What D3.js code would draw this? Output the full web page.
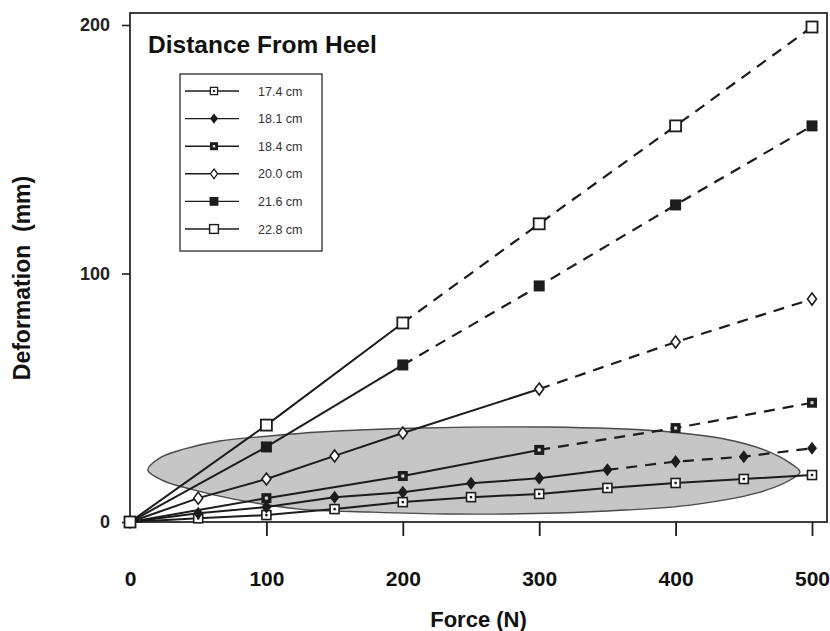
<!DOCTYPE html>
<html><head><meta charset="utf-8">
<script src="https://cdn.jsdelivr.net/npm/d3@7"></script>
<style>
html,body{margin:0;padding:0;background:#fff;}
svg{display:block;font-family:"Liberation Sans",Arial,Helvetica,sans-serif;}
</style></head>
<body>
<svg id="chart" width="830" height="631"></svg>
<script>
// ---- data ----
const seriesNames = ["17.4 cm","18.1 cm","18.4 cm","20.0 cm","21.6 cm","22.8 cm"];
const force_17_4 = [0,50,100,150,200,250,300,350,400,450,500];
const defo_17_4  = [0,1.5,2.8,5.2,8.0,10.0,11.3,13.7,15.7,17.3,18.9];
const force_18_1 = [0,50,100,150,200,250,300,350,400,450,500];
const defo_18_1  = [0,3.5,6.0,10.0,12.0,15.6,17.6,21.0,24.3,26.3,29.7];
const force_18_4 = [0,100,200,300,400,500];
const defo_18_4  = [0,9.6,18.5,29.0,37.8,48.0];
const force_20_0 = [0,50,100,150,200,300,400,500];
const defo_20_0  = [0,9.6,17.3,26.6,35.8,53.5,72.4,89.7];
const force_21_6 = [0,100,200,300,400,500];
const defo_21_6  = [0,30.2,63.2,95.0,127.6,159.4];
const force_22_8 = [0,100,200,300,400,500];
const defo_22_8  = [0,39.0,80.1,120.0,159.4,199.2];
// force up to which each series is drawn solid (dashed beyond)
const solidUntil = [500,350,300,300,200,200];
const xTicks = [0,100,200,300,400,500];
const yTicks = [0,100,200];
// shaded region outline (force, deformation)
const regionForce = [13.1,21.9,40.1,65.7,102.2,138.7,211.7,306.6,386.9,435.8,465.0,484.0,491.2,484.0,459.9,410.9,362.8,313.9,233.6,175.2,124.1,75.2,43.8,23.4];
const regionDefo  = [20.9,25.8,29.4,32.6,34.6,36.2,37.8,38.2,36.6,33.4,29.0,23.7,20.1,16.9,11.7,6.8,4.8,3.6,3.2,4.0,5.2,9.3,13.3,16.9];

const forces = [force_17_4,force_18_1,force_18_4,force_20_0,force_21_6,force_22_8];
const defos  = [defo_17_4,defo_18_1,defo_18_4,defo_20_0,defo_21_6,defo_22_8];
const series = seriesNames.map((n,i)=>({name:n, idx:i, solid:solidUntil[i],
  pts: forces[i].map((f,j)=>({f, d:defos[i][j]}))}));

// ---- layout ----
const svg = d3.select("#chart");
const L=130, R=827, T=13, B=522;
const x = d3.scaleLinear().domain([0,500]).range([130,812]);
const y = d3.scaleLinear().domain([0,200]).range([522,25]);
const ink = "#1c1c1c";

// shaded region
const regionPts = regionForce.map((f,i)=>[x(f), y(regionDefo[i])]);
svg.append("path")
  .attr("d", d3.line().curve(d3.curveCatmullRomClosed.alpha(0.5))(regionPts))
  .attr("fill","#c6c6c6").attr("stroke","#4a4a4a").attr("stroke-width",1.4);

// frame
svg.append("rect").attr("x",L).attr("y",T).attr("width",R-L).attr("height",B-T)
  .attr("fill","none").attr("stroke","#2a2a2a").attr("stroke-width",1.8);

// axes
const xAxis = svg.append("g").attr("transform",`translate(0,${B})`)
  .call(d3.axisBottom(x).tickValues(xTicks).tickSize(14).tickPadding(35).tickFormat(d3.format("d")));
xAxis.select(".domain").remove();
xAxis.selectAll(".tick line").attr("stroke",ink).attr("stroke-width",1.8)
  .filter(d=>d===0).remove();
xAxis.selectAll(".tick text").attr("fill","#111").attr("font-size",21).attr("font-weight","bold")
  .attr("font-family","Liberation Sans, Arial, sans-serif");

const yAxis = svg.append("g").attr("transform",`translate(${L},0)`)
  .call(d3.axisLeft(y).tickValues(yTicks).tickSize(8).tickPadding(12).tickFormat(d3.format("d")));
yAxis.select(".domain").remove();
yAxis.selectAll(".tick line").attr("stroke",ink).attr("stroke-width",1.6);
yAxis.selectAll(".tick text").attr("fill","#222").attr("font-size",18).attr("font-weight","bold")
  .attr("font-family","Liberation Sans, Arial, sans-serif");

// axis titles
svg.append("text").attr("x",(L+R)/2).attr("y",627).attr("text-anchor","middle")
  .attr("font-size",22).attr("font-weight","bold").attr("fill","#111").text("Force (N)");
svg.append("text").attr("transform",`translate(30,278) rotate(-90)`).attr("text-anchor","middle")
  .attr("font-size",23).attr("font-weight","bold").attr("fill","#111").attr("xml:space","preserve")
  .text("Deformation  (mm)");

// lines
const line = d3.line().x(p=>x(p.f)).y(p=>y(p.d));
series.forEach(s=>{
  const solid = s.pts.filter(p=>p.f<=s.solid);
  const dashed = s.pts.filter(p=>p.f>=s.solid);
  svg.append("path").attr("d",line(solid)).attr("fill","none").attr("stroke",ink).attr("stroke-width",2);
  if (dashed.length>1)
    svg.append("path").attr("d",line(dashed)).attr("fill","none").attr("stroke",ink)
      .attr("stroke-width",2.2).attr("stroke-dasharray","11,8");
});

// markers
function marker(g, idx, cx, cy, k){
  const m = g.append("g").attr("transform",`translate(${cx},${cy}) scale(${k})`);
  if (idx===0){ // 17.4 small open square with dot
    m.append("rect").attr("x",-4.5).attr("y",-4.5).attr("width",9).attr("height",9)
      .attr("fill","#fff").attr("stroke",ink).attr("stroke-width",1.6);
    m.append("rect").attr("x",-1.2).attr("y",-1.2).attr("width",2.4).attr("height",2.4).attr("fill",ink);
  } else if (idx===1){ // 18.1 filled diamond
    m.append("path").attr("d","M0,-6.5L5,0L0,6.5L-5,0Z").attr("fill",ink);
  } else if (idx===2){ // 18.4 dark square with small light centre
    m.append("rect").attr("x",-5).attr("y",-5).attr("width",10).attr("height",10).attr("fill",ink);
    m.append("rect").attr("x",-1.5).attr("y",-1.5).attr("width",3).attr("height",3).attr("fill","#ddd");
  } else if (idx===3){ // 20.0 open diamond
    m.append("path").attr("d","M0,-6L4.5,0L0,6L-4.5,0Z").attr("fill","#fff").attr("stroke",ink).attr("stroke-width",1.6);
  } else if (idx===4){ // 21.6 filled square
    m.append("rect").attr("x",-5.5).attr("y",-5.5).attr("width",11).attr("height",11).attr("fill",ink);
  } else { // 22.8 open square
    m.append("rect").attr("x",-5.5).attr("y",-5.5).attr("width",11).attr("height",11)
      .attr("fill","#fff").attr("stroke",ink).attr("stroke-width",1.8);
  }
}
const mg = svg.append("g");
series.forEach(s=>s.pts.forEach(p=>marker(mg, s.idx, x(p.f), y(p.d), 1)));

// title & legend
svg.append("text").attr("x",148).attr("y",53).attr("font-size",24.5).attr("font-weight","bold")
  .attr("fill","#111").text("Distance From Heel");
const lg = svg.append("g");
lg.append("rect").attr("x",180).attr("y",74).attr("width",142).attr("height",177)
  .attr("fill","#fff").attr("stroke","#2a2a2a").attr("stroke-width",1.3);
seriesNames.forEach((n,i)=>{
  const yy = 91 + i*27.6;
  lg.append("line").attr("x1",185).attr("x2",239).attr("y1",yy).attr("y2",yy)
    .attr("stroke",ink).attr("stroke-width",1.4);
  marker(lg, i, 214, yy, 0.8);
  lg.append("text").attr("x",258).attr("y",yy+4.5).attr("font-size",12.5).attr("fill","#333").text(n);
});
</script>
</body></html>
